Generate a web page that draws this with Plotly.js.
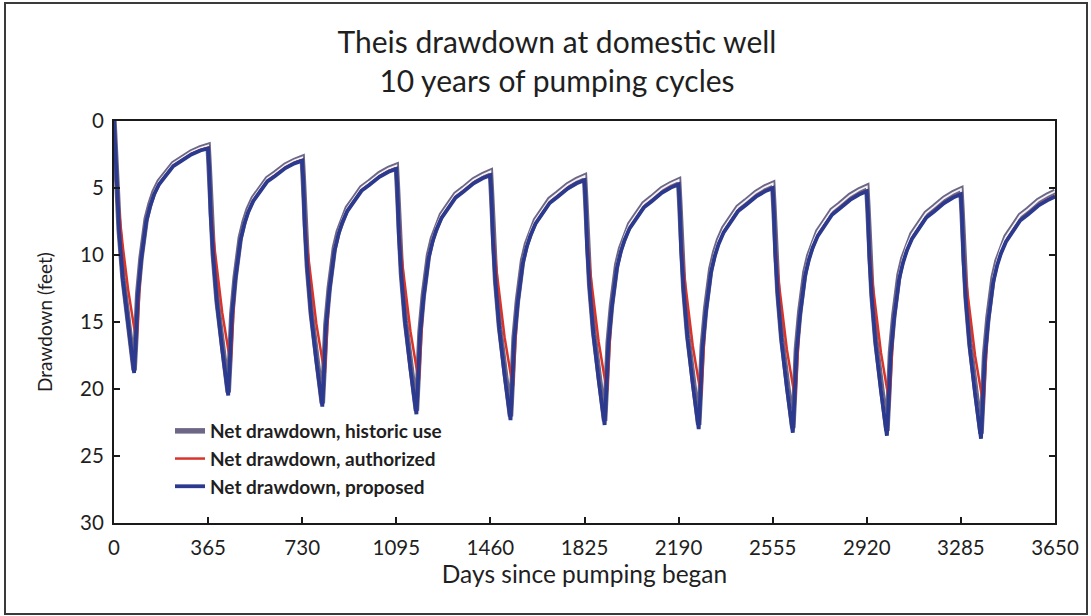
<!DOCTYPE html>
<html><head><meta charset="utf-8">
<script src="https://cdn.plot.ly/plotly-3.0.1.min.js"></script>
<style>
html,body{margin:0;padding:0;background:#fff;}
#wrap{position:relative;width:1091px;height:616px;}
#chart{width:1091px;height:616px;}
#frame{position:absolute;left:4px;top:2px;width:1080px;height:609px;border:2px solid #3a3a3a;pointer-events:none;}
</style></head><body>
<div id="wrap"><div id="chart"></div><div id="frame"></div></div>
<script>
// Days (shared by the historic and proposed series)
const daysBH = [
0,4,10,20,35,55,78,84,92,105,115,125,140,155,175,200,230,260,300,335,
365,369,375,385,400,420,443,449,457,470,480,490,505,520,540,565,595,625,665,700,
730,734,740,750,765,785,808,814,822,835,845,855,870,885,905,930,960,990,1030,1065,
1095,1099,1105,1115,1130,1150,1173,1179,1187,1200,1210,1220,1235,1250,1270,1295,1325,1355,1395,1430,
1460,1464,1470,1480,1495,1515,1538,1544,1552,1565,1575,1585,1600,1615,1635,1660,1690,1720,1760,1795,
1825,1829,1835,1845,1860,1880,1903,1909,1917,1930,1940,1950,1965,1980,2000,2025,2055,2085,2125,2160,
2190,2194,2200,2210,2225,2245,2268,2274,2282,2295,2305,2315,2330,2345,2365,2390,2420,2450,2490,2525,
2555,2559,2565,2575,2590,2610,2633,2639,2647,2660,2670,2680,2695,2710,2730,2755,2785,2815,2855,2890,
2920,2924,2930,2940,2955,2975,2998,3004,3012,3025,3035,3045,3060,3075,3095,3120,3150,3180,3220,3255,
3285,3289,3295,3305,3320,3340,3363,3369,3377,3390,3400,3410,3425,3440,3460,3485,3515,3545,3585,3620,
3650];

// Net drawdown, proposed (feet)
const proposed = [
0,1.6,5.1,8.3,11.9,15.4,18.8,16.6,13.1,10.4,8.72,7.5,6.37,5.5,4.72,4.1,3.37,3.0,2.50,2.20,
2.04,3.52,6.98,10.13,13.66,17.07,20.48,18.15,14.62,11.88,10.15,8.92,7.72,6.83,5.98,5.32,4.51,4.10,3.51,3.16,
2.96,4.43,7.89,11.03,14.54,17.92,21.31,18.98,15.44,12.68,10.94,9.70,8.49,7.59,6.72,6.04,5.21,4.78,4.17,3.79,
3.58,5.05,8.50,11.63,15.13,18.51,21.88,19.55,16.01,13.25,11.50,10.25,9.04,8.13,7.25,6.56,5.72,5.28,4.65,4.27,
4.04,5.51,8.96,12.09,15.58,18.96,22.32,19.99,16.45,13.68,11.93,10.68,9.46,8.55,7.67,6.97,6.12,5.67,5.04,4.65,
4.42,5.88,9.34,12.46,15.95,19.32,22.68,20.35,16.80,14.03,12.28,11.03,9.81,8.90,8.01,7.31,6.46,6.01,5.36,4.97,
4.73,6.20,9.65,12.77,16.26,19.63,22.99,20.65,17.11,14.34,12.59,11.34,10.11,9.19,8.31,7.61,6.74,6.29,5.65,5.25,
5.01,6.47,9.92,13.05,16.54,19.90,23.26,20.92,17.37,14.60,12.85,11.60,10.38,9.46,8.57,7.86,7.00,6.54,5.89,5.49,
5.25,6.72,10.17,13.29,16.78,20.14,23.49,21.16,17.61,14.84,13.09,11.83,10.61,9.69,8.80,8.09,7.23,6.77,6.12,5.71,
5.47,6.94,10.39,13.51,16.99,20.36,23.71,21.37,17.83,15.05,13.30,12.05,10.82,9.90,9.01,8.30,7.43,6.98,6.32,5.92,
5.64];

// Net drawdown, historic use (feet)
const historic = [
0,1.4,4.9,8.1,11.7,15.2,18.6,16.4,12.9,10.2,8.52,7.3,6.17,5.3,4.52,3.9,3.17,2.8,2.30,2.00,
1.82,3.30,6.76,9.91,13.44,16.85,20.26,17.93,14.40,11.66,9.93,8.70,7.50,6.61,5.76,5.10,4.29,3.88,3.29,2.94,
2.72,4.19,7.65,10.79,14.30,17.68,21.07,18.74,15.20,12.44,10.70,9.46,8.25,7.35,6.48,5.80,4.97,4.54,3.93,3.55,
3.32,4.79,8.24,11.37,14.87,18.25,21.62,19.29,15.75,12.99,11.24,9.99,8.78,7.87,6.99,6.30,5.46,5.02,4.39,4.01,
3.76,5.23,8.68,11.81,15.30,18.68,22.04,19.71,16.17,13.40,11.65,10.40,9.18,8.27,7.39,6.69,5.84,5.39,4.76,4.37,
4.12,5.58,9.04,12.16,15.65,19.02,22.38,20.05,16.50,13.73,11.98,10.73,9.51,8.60,7.71,7.01,6.16,5.71,5.06,4.67,
4.41,5.88,9.33,12.45,15.94,19.31,22.67,20.33,16.79,14.02,12.27,11.02,9.79,8.87,7.99,7.29,6.42,5.97,5.33,4.93,
4.67,6.13,9.58,12.71,16.20,19.56,22.92,20.58,17.03,14.26,12.51,11.26,10.04,9.12,8.23,7.52,6.66,6.20,5.55,5.15,
4.89,6.36,9.81,12.93,16.42,19.78,23.13,20.80,17.25,14.48,12.73,11.47,10.25,9.33,8.44,7.73,6.87,6.41,5.76,5.35,
5.09,6.56,10.01,13.13,16.61,19.98,23.33,20.99,17.45,14.67,12.92,11.67,10.44,9.52,8.63,7.92,7.05,6.60,5.94,5.54,
5.26];

// Days for the authorized series
const daysAuth = [
0,4,10,20,35,55,78,88,105,115,125,140,155,175,200,230,260,300,335,
365,369,375,385,400,420,443,453,470,480,490,505,520,540,565,595,625,665,700,
730,734,740,750,765,785,808,818,835,845,855,870,885,905,930,960,990,1030,1065,
1095,1099,1105,1115,1130,1150,1173,1183,1200,1210,1220,1235,1250,1270,1295,1325,1355,1395,1430,
1460,1464,1470,1480,1495,1515,1538,1548,1565,1575,1585,1600,1615,1635,1660,1690,1720,1760,1795,
1825,1829,1835,1845,1860,1880,1903,1913,1930,1940,1950,1965,1980,2000,2025,2055,2085,2125,2160,
2190,2194,2200,2210,2225,2245,2268,2278,2295,2305,2315,2330,2345,2365,2390,2420,2450,2490,2525,
2555,2559,2565,2575,2590,2610,2633,2643,2660,2670,2680,2695,2710,2730,2755,2785,2815,2855,2890,
2920,2924,2930,2940,2955,2975,2998,3008,3025,3035,3045,3060,3075,3095,3120,3150,3180,3220,3255,
3285,3289,3295,3305,3320,3340,3363,3373,3390,3400,3410,3425,3440,3460,3485,3515,3545,3585,3620,
3650];

// Net drawdown, authorized (feet)
const authorized = [
0,1.3,4.3,6.8,9.5,12.6,15.4,16.4,10.35,8.67,7.45,6.32,5.45,4.67,4.05,3.32,2.95,2.45,2.15,
1.99,3.26,6.23,8.68,11.31,14.32,17.03,18.00,11.83,10.10,8.87,7.67,6.78,5.93,5.27,4.46,4.05,3.46,3.11,
2.91,4.14,7.10,9.54,12.15,15.14,17.83,18.79,12.63,10.89,9.65,8.44,7.54,6.67,5.99,5.16,4.73,4.12,3.74,
3.53,4.72,7.68,10.11,12.72,15.70,18.38,19.33,13.20,11.45,10.20,8.99,8.08,7.20,6.51,5.67,5.23,4.60,4.22,
3.99,5.17,8.13,10.56,13.16,16.13,18.81,19.76,13.63,11.88,10.63,9.41,8.50,7.62,6.92,6.07,5.62,4.99,4.60,
4.37,5.53,8.49,10.92,13.51,16.49,19.16,20.10,13.98,12.23,10.98,9.76,8.85,7.96,7.26,6.41,5.96,5.31,4.92,
4.68,5.84,8.79,11.22,13.82,16.79,19.45,20.40,14.29,12.54,11.29,10.06,9.14,8.26,7.56,6.69,6.24,5.60,5.20,
4.96,6.11,9.06,11.49,14.08,17.05,19.71,20.66,14.55,12.80,11.55,10.33,9.41,8.52,7.81,6.95,6.49,5.84,5.44,
5.20,6.34,9.30,11.72,14.32,17.29,19.95,20.89,14.79,13.04,11.78,10.56,9.64,8.75,8.04,7.18,6.72,6.07,5.66,
5.42,6.56,9.51,11.94,14.53,17.50,20.16,21.10,15.00,13.25,12.00,10.77,9.85,8.96,8.25,7.38,6.93,6.27,5.87,
5.59];

const seriesNames = ['Net drawdown, historic use', 'Net drawdown, authorized', 'Net drawdown, proposed'];
const xTicks = [0,365,730,1095,1460,1825,2190,2555,2920,3285,3650];
const xTickLabels = ['0','365','730','1095','1460','1825','2190','2555','2920','3285','3650'];
const yTicks = [0,5,10,15,20,25,30];
const yTickLabels = ['0','5','10','15','20','25','30'];

const FONT = 'Lato, "Open Sans", sans-serif';
const INK = '#1f1f1f';
const AXIS = '#1a1a1a';

const traces = [
  {x: daysBH, y: historic, type:'scatter', mode:'lines', name: seriesNames[0],
   legendgroup:'h', line:{color:'#6d6785', width:5.5}},
  {x: daysBH, y: historic, type:'scatter', mode:'lines', name: seriesNames[0],
   legendgroup:'h', showlegend:false, hoverinfo:'skip', line:{color:'#f3f2f7', width:1.8}},
  {x: daysAuth, y: authorized, type:'scatter', mode:'lines', name: seriesNames[1],
   legendgroup:'a', line:{color:'#d9342b', width:2.5}},
  {x: daysBH, y: proposed, type:'scatter', mode:'lines', name: seriesNames[2],
   legendgroup:'p', line:{color:'#2b3a8f', width:3.8}}
];

const layout = {
  width:1091, height:616,
  margin:{l:114, r:36, t:121, b:93, pad:0},
  paper_bgcolor:'#ffffff', plot_bgcolor:'#ffffff',
  font:{family:FONT, color:INK},
  showlegend:true,
  title:{text:'Theis drawdown at domestic well<br>10 years of pumping cycles',
    font:{family:FONT, size:30, color:INK},
    xref:'container', x:557/1091, xanchor:'center',
    yref:'container', y:1-53/616, yanchor:'top'},
  xaxis:{range:[0,3650], tickmode:'array', tickvals:xTicks, ticktext:xTickLabels,
    ticks:'inside', ticklen:6, tickwidth:2, tickcolor:AXIS,
    showline:true, linewidth:2, linecolor:AXIS, mirror:true,
    showgrid:false, zeroline:false, fixedrange:true,
    tickfont:{family:FONT, size:20.5, color:INK}, ticklabelstandoff:5,
    title:{text:'Days since pumping began', font:{family:FONT, size:24.5, color:INK}, standoff:8}},
  yaxis:{range:[30,0], autorange:false, tickmode:'array', tickvals:yTicks, ticktext:yTickLabels,
    ticks:'inside', ticklen:6, tickwidth:2, tickcolor:AXIS,
    showline:true, linewidth:2, linecolor:AXIS, mirror:'ticks',
    showgrid:false, zeroline:false, fixedrange:true,
    tickfont:{family:FONT, size:20.5, color:INK}, ticklabelstandoff:4,
    title:{text:'Drawdown (feet)', font:{family:FONT, size:19, color:INK}, standoff:22}},
  legend:{x:(170-114)/941, xanchor:'left', y:1-(412-121)/402, yanchor:'top',
    bgcolor:'rgba(0,0,0,0)', borderwidth:0,
    traceorder:'grouped', tracegroupgap:0,
    font:{family:FONT, size:19, color:INK, weight:'bold'}}
};

Plotly.newPlot('chart', traces, layout, {staticPlot:true, displayModeBar:false});
</script></body></html>
